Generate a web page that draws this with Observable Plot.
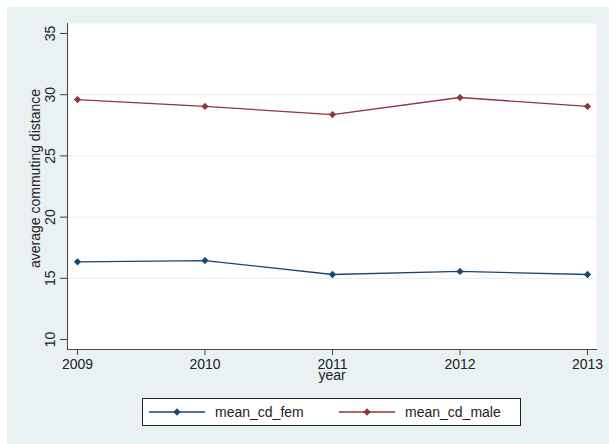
<!DOCTYPE html>
<html>
<head>
<meta charset="utf-8">
<script src="https://cdn.jsdelivr.net/npm/d3@7"></script>
<script src="https://cdn.jsdelivr.net/npm/@observablehq/plot@0.6"></script>
<style>
  body { margin: 0; background: #ffffff; font-family: "Liberation Sans", Arial, sans-serif; }
  #fig { position: absolute; left: 7px; top: 7px; width: 602px; height: 437px; background: #e9f1f3; }
  #chart svg { display: block; }
  #legend { position: absolute; left: 135px; top: 391px; width: 377px; height: 26px;
            background: #ffffff; border: 1px solid #222; }
  .item { position: absolute; top: 0; height: 26px; display: flex; align-items: center;
          font-size: 14px; color: #222; }
  .item svg { display: block; margin-right: 10px; }
</style>
</head>
<body>
<div id="fig">
  <div id="chart"></div>
  <div id="legend"></div>
</div>
<script>
// Average commuting distance by year, women vs. men
const years = [2009, 2010, 2011, 2012, 2013];
const meanCdFem = [16.35, 16.45, 15.31, 15.56, 15.31];
const meanCdMale = [29.6, 29.04, 28.38, 29.77, 29.04];
const yTicks = [10, 15, 20, 25, 30, 35];
const gridTicks = [15, 20, 25, 30];
const seriesNames = ["mean_cd_fem", "mean_cd_male"];
const seriesColors = ["#1a476f", "#90353b"];
const seriesValues = [meanCdFem, meanCdMale];

const rows = seriesNames.flatMap((name, i) =>
  years.map((year, j) => ({ year, value: seriesValues[i][j], series: name }))
);

const axisColor = "#444";
const textColor = "#222";
const markerR = 2.9;

const chart = Plot.plot({
  width: 602,
  height: 385,
  marginLeft: 60,
  marginRight: 13,
  marginTop: 16,
  marginBottom: 43,
  style: { background: "transparent", fontFamily: "Liberation Sans, Arial, sans-serif", fontSize: "14px", color: textColor },
  x: { domain: [2008.9216, 2013.0706] },
  y: { domain: [9.183, 35.817] },
  color: { domain: seriesNames, range: seriesColors },
  marks: [
    Plot.frame({ fill: "#ffffff", stroke: null }),
    Plot.ruleY(gridTicks, { stroke: "#e6eef0", strokeWidth: 1 }),
    Plot.axisY({ ticks: yTicks, tickSize: 7, tickPadding: 6, tickRotate: -90, stroke: axisColor, label: null, fill: textColor }),
    Plot.axisX({ ticks: years, tickFormat: d => String(d), tickSize: 6, tickPadding: 4, stroke: axisColor, label: null, fill: textColor }),
    Plot.frame({ anchor: "left", stroke: axisColor }),
    Plot.frame({ anchor: "bottom", stroke: axisColor }),
    Plot.line(rows, { x: "year", y: "value", z: "series", stroke: "series", strokeWidth: 1.3 }),
    // square markers turned 45° give the diamond shape
    Plot.dot(rows, { x: "year", y: "value", fill: "series", symbol: "square", rotate: 45, r: markerR }),
    Plot.text(["average commuting distance"], { frameAnchor: "left", textAnchor: "middle", rotate: -90, dx: -32, dy: -8, fontSize: 14, fill: textColor }),
    Plot.text(["year"], { frameAnchor: "bottom", lineAnchor: "bottom", dy: 30, fontSize: 14, fill: textColor })
  ]
});
document.getElementById("chart").appendChild(chart);

// Legend: line swatch with a diamond marker, then the series name
const legend = d3.select("#legend");
const itemLeft = [6, 196];
seriesNames.forEach((name, i) => {
  const item = legend.append("div").attr("class", "item").style("left", itemLeft[i] + "px");
  const sw = item.append("svg").attr("width", 56).attr("height", 12);
  sw.append("line").attr("x1", 0).attr("x2", 56).attr("y1", 6).attr("y2", 6)
    .attr("stroke", seriesColors[i]).attr("stroke-width", 1.3);
  sw.append("path").attr("transform", "translate(28,6) rotate(45)")
    .attr("d", d3.symbol(d3.symbolSquare, Math.PI * markerR * markerR)())
    .attr("fill", seriesColors[i]);
  item.append("span").text(name);
});
</script>
</body>
</html>
